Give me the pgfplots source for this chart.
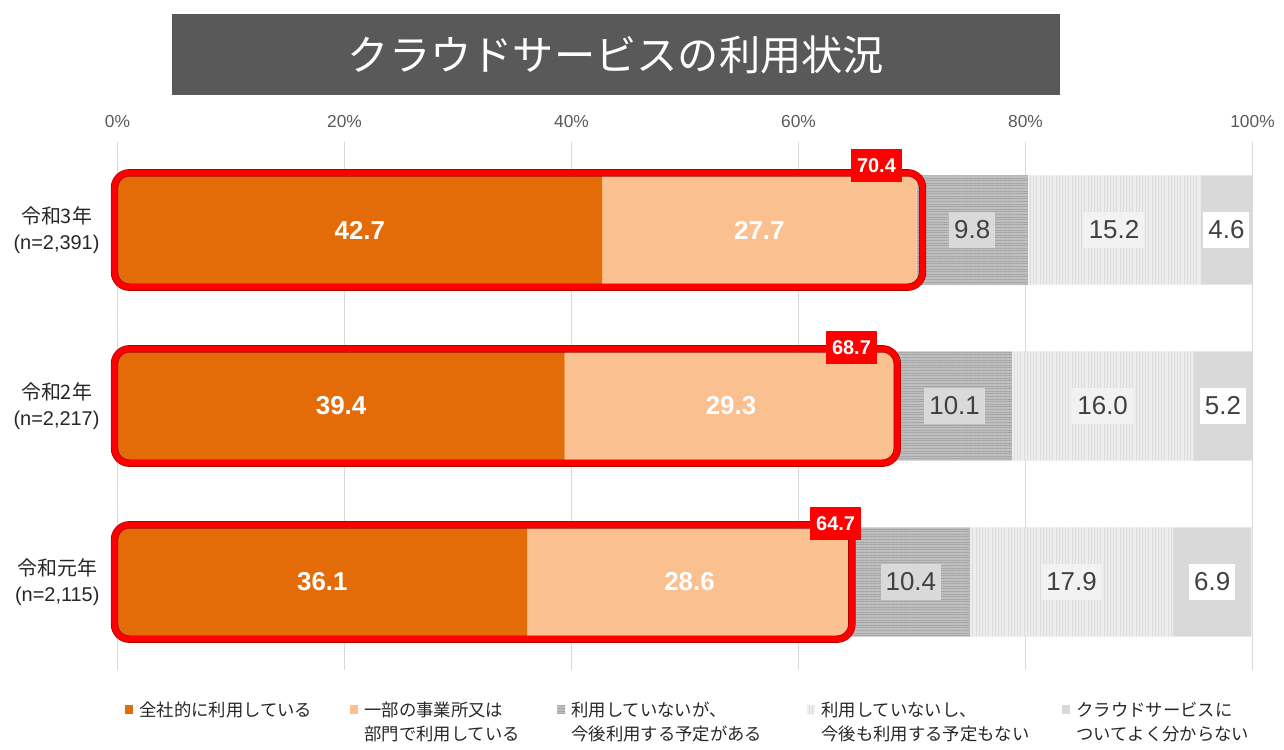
\documentclass[border=0pt]{standalone}
\usepackage{fontspec}
\setmainfont{Liberation Sans}
\newfontfamily\cjk{Noto Sans CJK JP}
\usepackage{pgfplots}
\pgfplotsset{compat=1.18}
\usepackage{pgfplotstable}
\usetikzlibrary{patterns.meta}

\definecolor{c1}{HTML}{E36C09}
\definecolor{c2}{HTML}{FAC090}
\definecolor{c3}{HTML}{BEBEBE}
\definecolor{c3l}{HTML}{A6A6A6}
\definecolor{c4}{HTML}{EDEDED}
\definecolor{c4l}{HTML}{DCDCDC}
\definecolor{c5}{HTML}{D9D9D9}
\definecolor{titlebg}{HTML}{595959}
\definecolor{lbl}{HTML}{404040}
\definecolor{tickc}{HTML}{595959}
\definecolor{gridc}{HTML}{D9D9D9}
\definecolor{redbox}{HTML}{FF0000}

% y: 0 = 令和元年, 1 = 令和2年, 2 = 令和3年
\pgfplotstableread{
y a b c d e
0 36.1 28.6 10.4 17.9 6.9
1 39.4 29.3 10.1 16.0 5.2
2 42.7 27.7 9.8 15.2 4.6
}\data

\tikzset{
  redframe/.style={redbox, line width=3bp, rounded corners=7.5bp},
  redshadow/.style={red!65!black, line width=3.7bp, rounded corners=7.5bp},
  redlbl/.style={fill=redbox, text=white, anchor=east, inner xsep=3.25bp,
    minimum height=16.5bp, font=\bfseries\fontsize{10}{12}\selectfont}
}

\begin{document}
\begin{tikzpicture}
\path[use as bounding box] (-58.75bp,-40bp) rectangle (583.25bp,335bp);
\begin{axis}[
  scale only axis, width=567.5bp, height=264bp,
  xbar stacked, bar width=0.62,
  xmin=0, xmax=100, ymin=-0.5, ymax=2.5,
  enlargelimits=false, clip=false,
  axis line style={draw=none},
  major tick length=0pt,
  xtick={0,20,...,100},
  xticklabel={\pgfmathprintnumber{\tick}\%},
  /pgf/number format/assume math mode=true,
  xticklabel pos=upper,
  xticklabel style={font=\fontsize{8.7}{10}\selectfont, text=tickc, yshift=3.5bp},
  xmajorgrids, major grid style={draw=gridc, line width=0.6bp},
  ytick={0,1,2},
  yticklabels={{{\cjk 令和元年}\\(n=2,115)},{{\cjk 令和2年}\\(n=2,217)},{{\cjk 令和3年}\\(n=2,391)}},
  yticklabel style={font=\fontsize{10}{13}\selectfont, align=center, text=black!85, xshift=-5.5bp},
  point meta=explicit symbolic,
  nodes near coords align={anchor=center},
  legend columns=5,
  legend style={draw=none, fill=none, inner sep=0pt,
    at={(0,0)}, anchor=north west, xshift=3.75bp, yshift=-15.5bp,
    font=\fontsize{8.7}{12.5}\selectfont\cjk, text=black!85,
    nodes={inner sep=0pt, text depth=},
    cells={anchor=base west},
    /tikz/every odd column/.append style={column sep=3bp}},
  legend image code/.code={\fill[#1] (0bp,0.8bp) rectangle (4bp,5.3bp);},
]
\addplot[fill=c1, draw=none, nodes near coords,
  every node near coord/.append style={text=white,
    font=\bfseries\fontsize{13}{15}\selectfont}]
  table[x=a, y=y, meta=a] {\data};
\addlegendentry{\parbox[t]{105.5bp}{全社的に利用している}}
\addplot[fill=c2, draw=none, nodes near coords,
  every node near coord/.append style={text=white,
    font=\bfseries\fontsize{13}{15}\selectfont}]
  table[x=b, y=y, meta=b] {\data};
\addlegendentry{\parbox[t]{96.5bp}{一部の事業所又は\\部門で利用している}}
\addplot[fill=c3, draw=none,
  postaction={pattern={Lines[angle=0,distance=1.3bp,line width=0.45bp]}, pattern color=c3l},
  nodes near coords,
  every node near coord/.append style={text=lbl,
    fill=c5, inner xsep=2.5bp, minimum height=18bp,
    font=\fontsize{13}{15}\selectfont}]
  table[x=c, y=y, meta=c] {\data};
\addlegendentry{\parbox[t]{118bp}{利用していないが、\\今後利用する予定がある}}
\addplot[fill=c4, draw=none,
  postaction={pattern={Lines[angle=90,distance=1.6bp,line width=0.5bp]}, pattern color=c4l},
  nodes near coords,
  every node near coord/.append style={text=lbl,
    fill=white!95!black, inner xsep=2.5bp, minimum height=18bp,
    font=\fontsize{13}{15}\selectfont}]
  table[x=d, y=y, meta=d] {\data};
\addlegendentry{\parbox[t]{120.5bp}{利用していないし、\\今後も利用する予定もない}}
\addplot[fill=c5, draw=none, nodes near coords,
  every node near coord/.append style={text=lbl,
    fill=white, inner xsep=2.5bp, minimum height=18bp,
    font=\fontsize{13}{15}\selectfont}]
  table[x=e, y=y, meta=e] {\data};
\addlegendentry{\parbox[t]{92bp}{クラウドサービスに\\ついてよく分からない}}

% corners of the red frames round the "in use" share
\coordinate (f3a) at (axis cs:0,1.675);    \coordinate (f3b) at (axis cs:70.4,2.325);
\coordinate (f2a) at (axis cs:0,0.675);    \coordinate (f2b) at (axis cs:68.7,1.325);
\coordinate (f1a) at (axis cs:0,-0.325);   \coordinate (f1b) at (axis cs:64.7,0.325);
\coordinate (l3) at (axis cs:70.4,2.364);
\coordinate (l2) at (axis cs:68.7,1.33);
\coordinate (l1) at (axis cs:64.7,0.332);
\end{axis}
% frames and totals, drawn over the bars
\draw[redshadow] ([xshift=-1.5bp]f3a) rectangle ([xshift=3bp]f3b);
\draw[redframe]  ([xshift=-1.5bp]f3a) rectangle ([xshift=3bp]f3b);
\draw[redshadow] ([xshift=-1.5bp]f2a) rectangle (f2b);
\draw[redframe]  ([xshift=-1.5bp]f2a) rectangle (f2b);
\draw[redshadow] ([xshift=-1.5bp]f1a) rectangle (f1b);
\draw[redframe]  ([xshift=-1.5bp]f1a) rectangle (f1b);
\node[redlbl] at ([xshift=-6.9bp]l3) {70.4};
\node[redlbl] at ([xshift=-9.75bp]l2) {68.7};
\node[redlbl] at ([xshift=5bp]l1) {64.7};
\fill[titlebg] (27.25bp,287.5bp) rectangle (471.25bp,328bp);
\node[text=white, font=\fontsize{20.7}{24}\selectfont\cjk] at (249.25bp,307.75bp) {クラウドサービスの利用状況};
\end{tikzpicture}
\end{document}
